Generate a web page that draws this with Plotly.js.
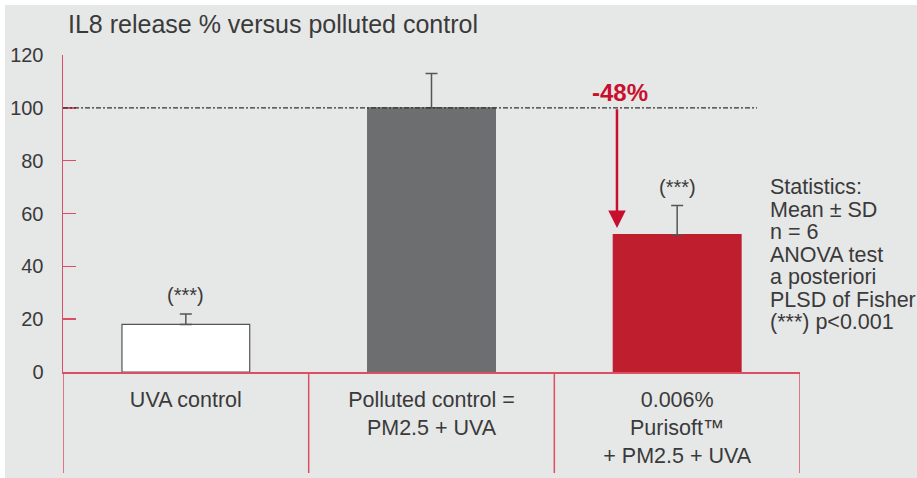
<!DOCTYPE html>
<html>
<head>
<meta charset="utf-8">
<script src="https://cdn.plot.ly/plotly-3.0.1.min.js"></script>
<style>
  html, body { margin: 0; padding: 0; background: #ffffff; overflow: hidden; }
  #chart { position: absolute; left: 5px; top: 5px; width: 912px; height: 473px; }
</style>
</head>
<body>
<div id="chart"></div>
<script>
// ---- data ----
const categories = ["UVA control", "Polluted control =<br>PM2.5 + UVA", "0.006%<br>Purisoft™<br>+ PM2.5 + UVA"];
const values = [18, 100, 52];
const sdValues = [4, 13, 11];
const significance = ["(***)", "", "(***)"];
const yTicks = [0, 20, 40, 60, 80, 100, 120];
const statsLines = ["Statistics:", "Mean ± SD", "n = 6", "ANOVA test", "a posteriori", "PLSD of Fisher", "(***) p<0.001"];
const titleText = "IL8 release % versus polluted control";

// ---- styles ----
const barColors = ["#ffffff", "#6d6e70", "#be1e2d"];
const barLineColors = ["#555555", "#6d6e70", "#be1e2d"];
const axisRed = "#dc4e63";
const textColor = "#3a3a3a";
const accentRed = "#c8102e";
const FONT = "Liberation Sans, Arial, Helvetica, sans-serif";

const controlIdx = 1, treatedIdx = 2;
const reduction = Math.round((values[treatedIdx] - values[controlIdx]) / values[controlIdx] * 100);

const trace = {
  type: "bar",
  x: categories,
  y: values,
  width: 0.52,
  marker: { color: barColors, line: { color: barLineColors, width: 1.2 } },
  error_y: {
    type: "data", symmetric: false, array: sdValues, arrayminus: sdValues.map(() => 0),
    color: "#555555", thickness: 1.5, width: 6
  },
  hoverinfo: "skip"
};

const annotations = [];
// significance labels
significance.forEach((s, i) => {
  if (!s) return;
  annotations.push({
    x: categories[i], y: values[i] + sdValues[i], xref: "x", yref: "y",
    text: s, showarrow: false, yanchor: "bottom", yshift: 6,
    font: { family: FONT, size: 20, color: textColor }
  });
});
// reduction arrow
const arrowX = 1.755;
annotations.push({
  x: arrowX, y: values[treatedIdx] + 2.5, xref: "x", yref: "y",
  ax: arrowX, ay: values[controlIdx], axref: "x", ayref: "y",
  text: "", showarrow: true, arrowhead: 2, arrowsize: 1.4, arrowwidth: 2.5,
  arrowcolor: accentRed, standoff: 0, startstandoff: 0
});
annotations.push({
  x: arrowX, y: values[controlIdx], xref: "x", yref: "y",
  text: "<b>" + reduction + "%</b>", showarrow: false, yanchor: "bottom", yshift: 0, xshift: 3,
  font: { family: FONT, size: 24, color: accentRed }
});
// statistics block
statsLines.forEach((t, i) => {
  annotations.push({
    x: 0.9566, y: (372 - (187 + 22.5 * i)) / 317, xref: "paper", yref: "paper",
    text: t, showarrow: false, xanchor: "left", yanchor: "middle",
    font: { family: FONT, size: 21.5, color: textColor }
  });
});

const shapes = [];
// reference line at control level
shapes.push({
  type: "line", xref: "x", yref: "y", x0: -0.5, x1: 2.325,
  y0: values[controlIdx], y1: values[controlIdx],
  line: { color: "#333333", width: 1.2, dash: "5px,2px,2px,2px" }, layer: "above"
});
// category dividers below axis
for (let i = 0; i <= categories.length; i++) {
  shapes.push({
    type: "line", xref: "x", yref: "paper", x0: i - 0.5, x1: i - 0.5, y0: 0, y1: -101 / 317,
    line: { color: axisRed, width: 1.5 }
  });
}

const layout = {
  width: 912, height: 473,
  margin: { l: 58, r: 117, t: 50, b: 106 },
  paper_bgcolor: "#e6e7e7",
  plot_bgcolor: "#e6e7e7",
  showlegend: false,
  title: {
    text: titleText, xref: "container", yref: "container",
    x: 63 / 912, xanchor: "left", y: 1 - 19 / 473, yanchor: "middle",
    font: { family: FONT, size: 25, color: textColor }
  },
  xaxis: {
    type: "category", range: [-0.5, 2.5], showgrid: false, zeroline: false,
    showline: true, linecolor: axisRed, linewidth: 1.5, ticks: "",
    ticklabelstandoff: 8,
    tickfont: { family: FONT, size: 21.5, color: textColor }, fixedrange: true
  },
  yaxis: {
    range: [0, 120], tickvals: yTicks, ticktext: yTicks.map(String),
    showgrid: false, zeroline: false, showline: true, linecolor: axisRed, linewidth: 1.5,
    ticks: "inside", ticklen: 13, tickcolor: axisRed, tickwidth: 1.5,
    ticklabelstandoff: 14,
    tickfont: { family: FONT, size: 20, color: textColor }, fixedrange: true
  },
  annotations: annotations,
  shapes: shapes
};

Plotly.newPlot("chart", [trace], layout, { displayModeBar: false, staticPlot: true });
</script>
</body>
</html>
